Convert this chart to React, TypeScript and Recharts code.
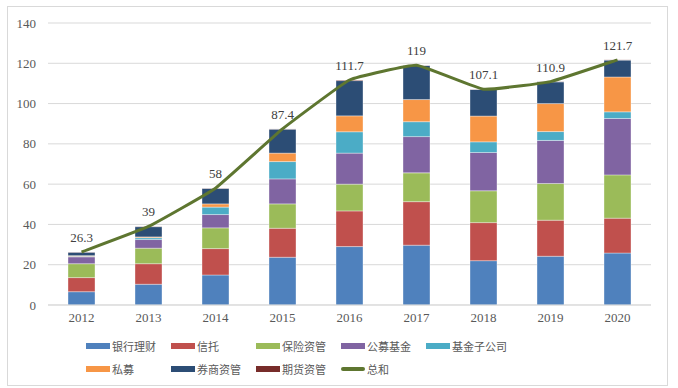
import {
  Bar,
  CartesianGrid,
  ComposedChart,
  LabelList,
  Line,
  XAxis,
  YAxis,
} from "recharts";

const years = ["2012", "2013", "2014", "2015", "2016", "2017", "2018", "2019", "2020"];
const bank = [6.6, 10.3, 14.9, 23.7, 29.0, 29.7, 22.0, 24.2, 25.8];
const trust = [7.0, 10.2, 13.1, 14.4, 17.7, 21.6, 18.9, 17.9, 17.3];
const insurance = [6.9, 7.7, 10.3, 12.1, 13.3, 14.3, 15.8, 18.2, 21.5];
const publicFund = [3.4, 4.3, 6.6, 12.4, 15.4, 18.0, 19.0, 21.4, 28.0];
const fundSub = [0.3, 0.9, 3.7, 8.6, 10.6, 7.4, 5.3, 4.4, 3.3];
const privateFund = [0.3, 0.4, 1.6, 4.2, 7.9, 11.0, 12.8, 13.9, 17.3];
const broker = [1.7, 5.1, 7.7, 11.9, 17.5, 16.9, 13.2, 10.8, 8.4];
const futures = [0.1, 0.1, 0.1, 0.1, 0.3, 0.1, 0.1, 0.1, 0.1];
const total = [26.3, 39, 58, 87.4, 111.7, 119, 107.1, 110.9, 121.7];
const yTicks = [0, 20, 40, 60, 80, 100, 120, 140];

const series = [
  { key: "bank", name: "银行理财", color: "#4F81BD", values: bank },
  { key: "trust", name: "信托", color: "#C0504D", values: trust },
  { key: "insurance", name: "保险资管", color: "#9BBB59", values: insurance },
  { key: "publicFund", name: "公募基金", color: "#8064A2", values: publicFund },
  { key: "fundSub", name: "基金子公司", color: "#4BACC6", values: fundSub },
  { key: "privateFund", name: "私募", color: "#F79646", values: privateFund },
  { key: "broker", name: "券商资管", color: "#2C4D75", values: broker },
  { key: "futures", name: "期货资管", color: "#772C2A", values: futures },
];
const lineColor = "#5E7630";

const data = years.map((year, i) => {
  const row: Record<string, number | string> = { year, total: total[i] };
  series.forEach((s) => {
    row[s.key] = s.values[i];
  });
  return row;
});

// lightly smoothed line, like the spreadsheet's smooth line option
const smoothCurve = (ctx: any) => {
  let pts: [number, number][] = [];
  const k = 0.05;
  return {
    areaStart() {},
    areaEnd() {},
    lineStart() {
      pts = [];
    },
    lineEnd() {
      if (!pts.length) return;
      ctx.moveTo(pts[0][0], pts[0][1]);
      for (let i = 0; i < pts.length - 1; i++) {
        const p0 = pts[i - 1] || pts[i];
        const p1 = pts[i];
        const p2 = pts[i + 1];
        const p3 = pts[i + 2] || p2;
        ctx.bezierCurveTo(
          p1[0] + (p2[0] - p0[0]) * k,
          p1[1] + (p2[1] - p0[1]) * k,
          p2[0] - (p3[0] - p1[0]) * k,
          p2[1] - (p3[1] - p1[1]) * k,
          p2[0],
          p2[1]
        );
      }
    },
    point(x: number, y: number) {
      pts.push([+x, +y]);
    },
  };
};

const legendRows = [
  series.slice(0, 5).map((s) => ({ name: s.name, color: s.color, line: false })),
  [
    ...series.slice(5).map((s) => ({ name: s.name, color: s.color, line: false })),
    { name: "总和", color: lineColor, line: true },
  ],
];

const tickStyle = { fill: "#595959", fontSize: 13, fontFamily: "Liberation Serif, serif" };

const App = () => {
  return (
    <div style={{ position: "absolute", left: 0, top: 0, width: 678, height: 388 }}>
      <div
        style={{
          position: "absolute",
          left: 7,
          top: 6,
          width: 659,
          height: 378,
          border: "1px solid #d9d9d9",
        }}
      />
      <ComposedChart
        width={678}
        height={388}
        data={data}
        margin={{ top: 23, right: 27, left: 0, bottom: 53 }}
        barSize={27}
        style={{ position: "absolute", left: 0, top: 0 }}
      >
        <CartesianGrid vertical={false} stroke="#d9d9d9" />
        <XAxis
          dataKey="year"
          tickLine={false}
          axisLine={{ stroke: "#d9d9d9" }}
          tick={tickStyle}
          height={30}
        />
        <YAxis
          width={48}
          domain={[0, 140]}
          ticks={yTicks}
          tickLine={false}
          axisLine={false}
          tick={tickStyle}
          tickMargin={6}
        />
        {series.map((s) => (
          <Bar
            key={s.key}
            dataKey={s.key}
            name={s.name}
            stackId="a"
            fill={s.color}
            stroke="rgba(255,255,255,0.45)"
            strokeWidth={0.8}
            isAnimationActive={false}
          />
        ))}
        <Line
          dataKey="total"
          name="总和"
          type={smoothCurve as any}
          stroke={lineColor}
          strokeWidth={3}
          dot={false}
          activeDot={false}
          isAnimationActive={false}
        >
          <LabelList
            dataKey="total"
            position="top"
            offset={10}
            style={{ fill: "#404040", fontSize: 13, fontFamily: "Liberation Serif, serif" }}
          />
        </Line>
      </ComposedChart>
      {legendRows.map((row, r) => (
        <div
          key={r}
          style={{
            position: "absolute",
            left: 86,
            top: 337 + r * 23,
            display: "flex",
            fontFamily: "'Noto Sans CJK SC', sans-serif",
            fontSize: 11,
            color: "#595959",
            whiteSpace: "nowrap",
          }}
        >
          {row.map((item) => (
            <div
              key={item.name}
              style={{ width: 85, display: "flex", alignItems: "center", height: 18 }}
            >
              <span
                style={{
                  display: "inline-block",
                  width: 24,
                  height: item.line ? 4 : 6,
                  borderRadius: item.line ? 2 : 0,
                  background: item.color,
                  marginRight: 2,
                  flexShrink: 0,
                }}
              />
              <span>{item.name}</span>
            </div>
          ))}
        </div>
      ))}
    </div>
  );
};

export default App;
